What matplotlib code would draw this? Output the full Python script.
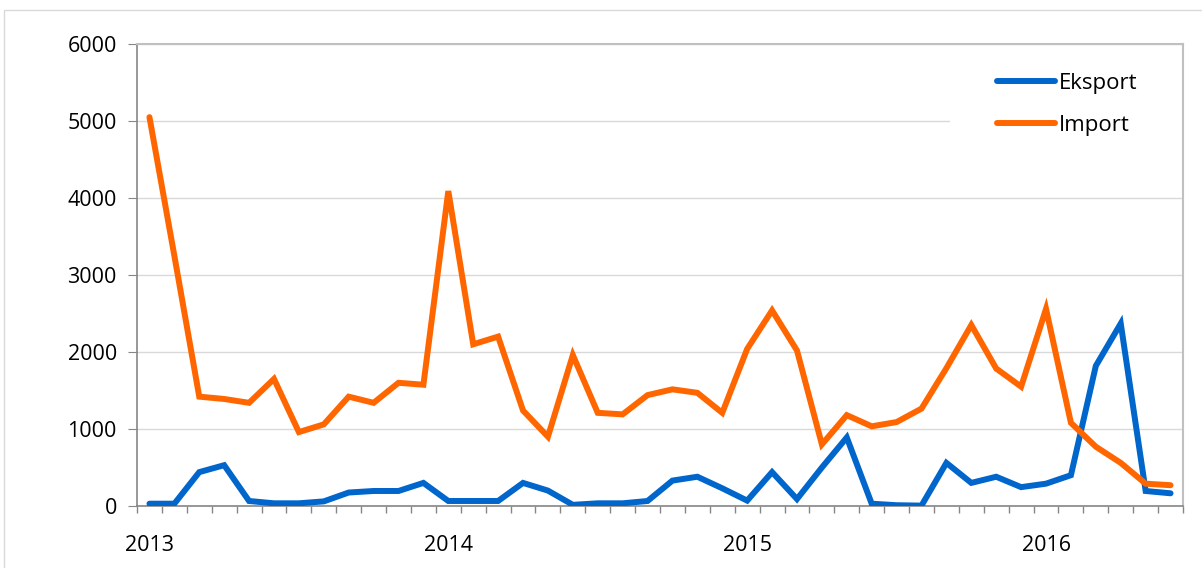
import matplotlib
matplotlib.use("Agg")
import matplotlib.pyplot as plt
from matplotlib.patches import Rectangle
import numpy as np

months = 42  # Jan 2013 .. Jun 2016
year_labels = ["2013", "2014", "2015", "2016"]
year_positions = [0, 12, 24, 36]

eksport = [30, 30, 440, 530, 65, 35, 35, 60, 175, 195, 195, 300,
           65, 65, 65, 300, 200, 15, 35, 35, 65, 330, 380, 230,
           70, 440, 90, 500, 890, 30, 10, 5, 560, 300, 380, 245,
           290, 400, 1820, 2370, 195, 165]
importv = [5050, 3250, 1420, 1390, 1340, 1650, 960, 1060, 1420, 1340, 1600, 1575,
           4090, 2100, 2200, 1240, 900, 1960, 1210, 1190, 1440, 1515, 1470, 1210,
           2040, 2540, 2020, 800, 1180, 1035, 1090, 1265, 1790, 2350, 1785, 1550,
           2560, 1080, 770, 560, 290, 270]

plt.rcParams['font.family'] = ['Open Sans', 'DejaVu Sans']

W, H = 1202, 568
fig = plt.figure(figsize=(W/100, H/100), dpi=100)
ax = fig.add_axes([137/W, 1-506/H, (1183-137)/W, (506-44)/H])

# outer chart border
fig.patches.append(Rectangle((4/W, -0.05), 1.1, 1-10/H+0.05, transform=fig.transFigure,
                             fill=False, edgecolor='#d9d9d9', linewidth=1))

x = np.arange(months)
ax.plot(x, eksport, color='#0066CC', linewidth=4.3, label='Eksport',
        solid_joinstyle='miter', solid_capstyle='round', zorder=3)
ax.plot(x, importv, color='#FF6600', linewidth=4.3, label='Import',
        solid_joinstyle='miter', solid_capstyle='round', zorder=3)

ax.set_xlim(-0.5, months - 0.5)
ax.set_ylim(0, 6000)
ax.set_yticks(range(0, 6001, 1000))
ax.tick_params(axis='y', length=6.5, color='#868686', labelsize=15.5, pad=8)
ax.grid(axis='y', color='#d9d9d9', linewidth=1)
ax.set_axisbelow(True)

ax.set_xticks(year_positions)
ax.set_xticklabels(year_labels)
ax.tick_params(axis='x', which='major', length=0, labelsize=15.5, pad=21)
ax.set_xticks(np.arange(-0.5, months, 1.0), minor=True)
ax.tick_params(axis='x', which='minor', length=5, color='#868686', width=1)

for s in ['left', 'bottom']:
    ax.spines[s].set_color('#868686')
    ax.spines[s].set_linewidth(1.2)
for s in ['top', 'right']:
    ax.spines[s].set_color('#c0c0c0')
    ax.spines[s].set_linewidth(1.5)

# white legend area covering the gridline
ax.add_patch(Rectangle((950/W, 1-160/H), (1182-950)/W, (160-50)/H,
                       transform=fig.transFigure, facecolor='white', edgecolor='none', zorder=2))

leg = ax.legend(loc='center left', bbox_to_anchor=(997/W, 1-104.5/H),
                bbox_transform=fig.transFigure, frameon=False,
                fontsize=16, handlelength=2.6, labelspacing=0.95, borderpad=0,
                handletextpad=0.2, borderaxespad=0)
for t in leg.get_texts():
    t.set_color('#000000')

fig.savefig('out.png', dpi=100)
